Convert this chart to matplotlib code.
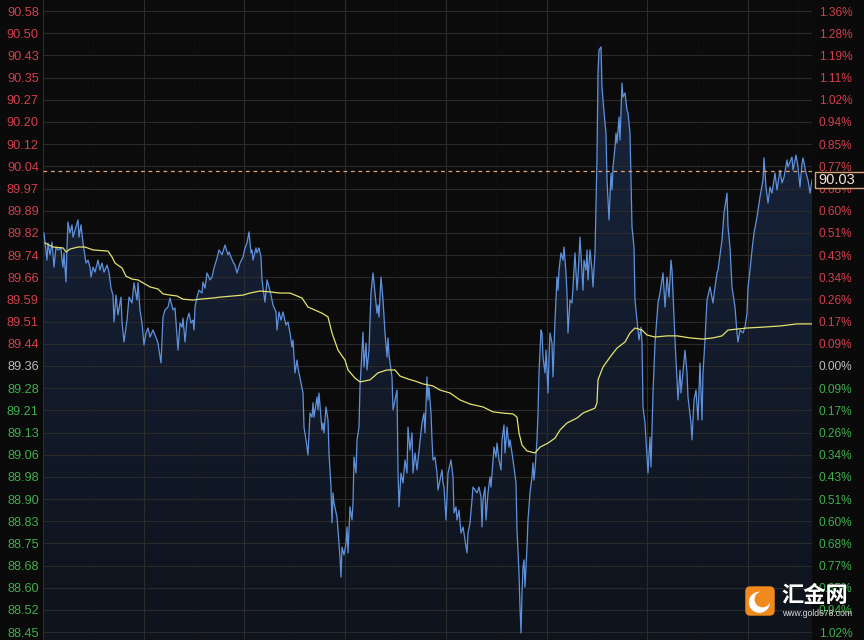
import numpy as np
import matplotlib
matplotlib.use('Agg')
import matplotlib.pyplot as plt
from matplotlib.patches import Polygon, FancyBboxPatch, Circle, Rectangle

plt.rcParams['font.family'] = ['Liberation Sans', 'DejaVu Sans']

# bars since open / price
t = [1, 4, 5, 7, 9, 11, 13, 15, 18, 19,
     20, 21, 23, 24, 25, 27, 29, 30, 32, 35,
     36, 38, 40, 43, 45, 47, 48, 50, 52, 55,
     57, 59, 61, 64, 66, 68, 70, 71, 73, 75,
     78, 79, 81, 84, 86, 89, 91, 94, 95, 97,
     99, 101, 103, 105, 107, 110, 114, 115, 118, 120,
     122, 125, 127, 130, 132, 135, 137, 139, 140, 142,
     144, 146, 148, 150, 151, 152, 154, 156, 159, 160,
     162, 164, 167, 169, 171, 174, 176, 179, 182, 185,
     186, 190, 192, 194, 197, 200, 202, 204, 206, 208,
     209, 210, 213, 214, 216, 218, 219, 220, 222, 224,
     226, 228, 230, 233, 234, 236, 238, 240, 243, 245,
     247, 249, 250, 252, 254, 255, 258, 260, 261, 263,
     265, 267, 269, 270, 271, 274, 275, 276, 279, 280,
     281, 283, 285, 286, 288, 289, 290, 291, 294, 295,
     297, 298, 299, 301, 303, 304, 305, 307, 309, 310,
     311, 313, 314, 316, 317, 319, 320, 321, 323, 324,
     326, 328, 330, 332, 334, 335, 336, 338, 340, 342,
     344, 345, 346, 349, 350, 352, 354, 355, 356, 358,
     360, 362, 364, 365, 367, 369, 370, 372, 374, 375,
     379, 381, 382, 384, 385, 386, 388, 389, 390, 392,
     394, 395, 399, 400, 401, 402, 403, 405, 408, 410,
     411, 413, 414, 416, 418, 420, 422, 424, 425, 427,
     429, 430, 434, 436, 438, 439, 440, 442, 443, 445,
     447, 448, 450, 451, 453, 454, 456, 458, 459, 461,
     462, 464, 466, 467, 469, 471, 473, 474, 476, 477,
     478, 479, 480, 481, 482, 484, 485, 487, 489, 490,
     491, 492, 494, 495, 496, 498, 499, 500, 502, 503,
     505, 506, 507, 509, 510, 512, 514, 515, 516, 518,
     520, 521, 523, 524, 525, 527, 529, 530, 532, 534,
     535, 537, 539, 540, 541, 543, 544, 545, 547, 549,
     550, 552, 554, 555, 556, 558, 559, 560, 562, 563,
     564, 566, 568, 569, 570, 572, 573, 574, 576, 577,
     579, 580, 582, 584, 585, 587, 588, 589, 591, 592,
     594, 596, 598, 599, 600, 602, 605, 607, 608, 610,
     612, 615, 617, 620, 622, 624, 626, 628, 629, 630,
     632, 634, 635, 637, 638, 642, 644, 645, 648, 649,
     651, 653, 655, 657, 659, 660, 662, 664, 667, 670,
     672, 674, 675, 679, 681, 684, 685, 687, 689, 692,
     694, 695, 697, 700, 702, 704, 705, 707, 709, 711,
     714, 717, 720, 721, 723, 725, 727, 729, 732, 734,
     737, 739, 741, 744, 745, 749, 750, 753, 755, 757,
     759, 760, 763, 765, 767, 769]

price = [89.818, 89.725, 89.784, 89.743, 89.787, 89.701, 89.770, 89.760, 89.767, 89.725,
         89.701, 89.750, 89.650, 89.770, 89.856, 89.818, 89.846, 89.804, 89.828, 89.863,
         89.804, 89.846, 89.784, 89.715, 89.725, 89.701, 89.667, 89.701, 89.684, 89.725,
         89.691, 89.715, 89.684, 89.708, 89.684, 89.629, 89.605, 89.513, 89.605, 89.537,
         89.598, 89.513, 89.444, 89.519, 89.598, 89.578, 89.647, 89.588, 89.647, 89.554,
         89.509, 89.434, 89.475, 89.492, 89.461, 89.485, 89.451, 89.440, 89.372, 89.530,
         89.554, 89.564, 89.595, 89.554, 89.561, 89.416, 89.509, 89.495, 89.526, 89.444,
         89.519, 89.543, 89.509, 89.519, 89.485, 89.564, 89.598, 89.622, 89.612, 89.650,
         89.629, 89.681, 89.657, 89.667, 89.698, 89.732, 89.760, 89.743, 89.777, 89.743,
         89.753, 89.719, 89.708, 89.681, 89.715, 89.736, 89.767, 89.784, 89.822, 89.750,
         89.760, 89.725, 89.767, 89.750, 89.767, 89.736, 89.657, 89.629, 89.581, 89.657,
         89.633, 89.605, 89.571, 89.547, 89.485, 89.547, 89.519, 89.547, 89.502, 89.513,
         89.475, 89.427, 89.451, 89.338, 89.382, 89.355, 89.303, 89.269, 89.152, 89.108,
         89.056, 89.200, 89.186, 89.235, 89.186, 89.255, 89.211, 89.269, 89.142, 89.166,
         89.132, 89.221, 89.176, 89.063, 88.946, 88.823, 88.926, 88.891, 88.843, 88.799,
         88.706, 88.637, 88.740, 88.713, 88.754, 88.809, 88.720, 88.878, 88.833, 88.891,
         89.049, 88.994, 89.108, 89.152, 89.289, 89.416, 89.478, 89.358, 89.440, 89.348,
         89.416, 89.612, 89.681, 89.612, 89.543, 89.571, 89.530, 89.667, 89.588, 89.475,
         89.392, 89.458, 89.399, 89.324, 89.211, 89.245, 89.279, 89.005, 88.878, 88.994,
         88.960, 89.039, 88.994, 89.152, 89.073, 89.132, 88.994, 89.063, 89.005, 89.039,
         89.166, 89.200, 89.132, 89.324, 89.245, 89.289, 89.200, 89.108, 89.039, 89.049,
         88.994, 88.936, 89.005, 88.960, 88.946, 88.891, 88.833, 88.994, 89.039, 88.981,
         88.857, 88.878, 88.833, 88.867, 88.788, 88.809, 88.764, 88.720, 88.788, 88.823,
         88.902, 88.946, 88.926, 88.946, 88.912, 88.809, 88.902, 88.946, 88.833, 88.926,
         88.981, 88.946, 89.039, 89.083, 89.049, 89.097, 89.039, 89.005, 89.108, 89.159,
         89.063, 89.152, 89.083, 89.108, 89.063, 89.015, 88.960, 88.799, 88.651, 88.534,
         88.445, 88.582, 88.672, 88.696, 88.603, 88.740, 88.833, 88.926, 88.981, 89.029,
         88.970, 89.005, 89.108, 89.200, 89.338, 89.485, 89.475, 89.392, 89.338, 89.416,
         89.269, 89.392, 89.475, 89.440, 89.324, 89.519, 89.667, 89.622, 89.691, 89.750,
         89.725, 89.770, 89.681, 89.612, 89.475, 89.588, 89.578, 89.633, 89.750, 89.622,
         89.667, 89.804, 89.681, 89.622, 89.725, 89.691, 89.760, 89.657, 89.760, 89.691,
         89.633, 89.750, 90.079, 90.367, 90.446, 90.457, 90.319, 90.275, 90.196, 90.161,
         90.000, 89.863, 90.024, 89.966, 90.045, 90.113, 90.161, 90.127, 90.216, 90.137,
         90.333, 90.285, 90.299, 90.240, 90.230, 90.161, 90.000, 89.839, 89.770, 89.588,
         89.519, 89.451, 89.495, 89.440, 89.221, 89.166, 88.994, 89.118, 89.015, 89.269,
         89.440, 89.578, 89.612, 89.681, 89.564, 89.667, 89.598, 89.725, 89.691, 89.612,
         89.451, 89.314, 89.245, 89.348, 89.269, 89.416, 89.338, 89.255, 89.166, 89.108,
         89.245, 89.279, 89.176, 89.372, 89.176, 89.338, 89.451, 89.588, 89.633, 89.578,
         89.633, 89.681, 89.691, 89.794, 89.887, 89.955, 89.839, 89.770, 89.633, 89.564,
         89.475, 89.444, 89.485, 89.475, 89.495, 89.543, 89.633, 89.691, 89.760, 89.818,
         89.873, 89.942, 90.000, 90.076, 89.976, 89.921, 89.976, 89.955, 90.024, 89.966,
         90.034, 89.990, 90.010, 90.069, 90.045, 90.079, 90.034, 90.086, 90.045, 89.976,
         90.058, 90.076, 90.024, 90.000, 89.955, 90.000]

# average price line
ma_t = [2, 10, 20, 23, 27, 35, 42, 50, 65, 69,
        72, 79, 83, 89, 95, 100, 107, 115, 120, 127,
        134, 140, 150, 157, 170, 177, 190, 200, 207, 217,
        227, 237, 247, 259, 265, 279, 285, 289, 295, 302,
        305, 312, 317, 327, 335, 344, 352, 357, 365, 372,
        380, 390, 397, 407, 417, 427, 440, 450, 460, 470,
        474, 476, 479, 484, 492, 497, 505, 512, 517, 524,
        534, 540, 552, 554, 555, 560, 567, 574, 582, 587,
        592, 599, 604, 612, 624, 634, 647, 660, 670, 679,
        685, 704, 720, 737, 754, 769]
ma = [89.784, 89.770, 89.767, 89.753, 89.763, 89.770, 89.770, 89.760, 89.756, 89.736,
      89.715, 89.698, 89.670, 89.660, 89.657, 89.647, 89.633, 89.626, 89.609, 89.605,
      89.602, 89.591, 89.588, 89.591, 89.595, 89.598, 89.602, 89.605, 89.612, 89.619,
      89.616, 89.612, 89.612, 89.595, 89.564, 89.543, 89.530, 89.475, 89.416, 89.382,
      89.348, 89.320, 89.307, 89.314, 89.338, 89.348, 89.348, 89.327, 89.317, 89.310,
      89.300, 89.293, 89.279, 89.269, 89.245, 89.231, 89.221, 89.204, 89.200, 89.197,
      89.186, 89.132, 89.090, 89.070, 89.063, 89.083, 89.097, 89.114, 89.142, 89.166,
      89.183, 89.200, 89.217, 89.235, 89.314, 89.358, 89.392, 89.423, 89.444, 89.475,
      89.492, 89.485, 89.468, 89.461, 89.465, 89.465, 89.458, 89.454, 89.458, 89.465,
      89.485, 89.492, 89.495, 89.499, 89.506, 89.506]

last_price = 90.03

price_labels = ['90.58', '90.50', '90.43', '90.35', '90.27', '90.20', '90.12', '90.04',
                '89.97', '89.89', '89.82', '89.74', '89.66', '89.59', '89.51', '89.44',
                '89.36', '89.28', '89.21', '89.13', '89.06', '88.98', '88.90', '88.83',
                '88.75', '88.68', '88.60', '88.52', '88.45']
pct_labels = ['1.36%', '1.28%', '1.19%', '1.11%', '1.02%', '0.94%', '0.85%', '0.77%',
              '0.68%', '0.60%', '0.51%', '0.43%', '0.34%', '0.26%', '0.17%', '0.09%',
              '0.00%', '0.09%', '0.17%', '0.26%', '0.34%', '0.43%', '0.51%', '0.60%',
              '0.68%', '0.77%', '0.85%', '0.94%', '1.02%']
zero_idx = 16

RED = '#d0404b'
GREEN = '#3fae4d'
GREY = '#bdbdbd'

fig = plt.figure(figsize=(8.64, 6.4), dpi=100, facecolor='#0a0a0a')
ax = fig.add_axes([43 / 864, 0, 769 / 864, 1])
ax.set_facecolor('#0b0b0b')

ymin, ymax = 88.421, 90.618
xmax = 769

# gradient fill under the price line
verts = [(t[0], ymin)] + list(zip(t, price)) + [(t[-1], ymin)]
poly = Polygon(verts, closed=True, facecolor='none', edgecolor='none')
ax.add_patch(poly)
g = np.linspace(0, 1, 256)[:, None, None]
top_c = np.array([0.10, 0.15, 0.25])
bot_c = np.array([0.055, 0.075, 0.11])
img = top_c * (1 - g) + bot_c * g
im = ax.imshow(img, extent=[0, xmax, ymin, ymax], aspect='auto', origin='upper', zorder=1)
im.set_clip_path(poly)

ax.set_xlim(0, xmax)
ax.set_ylim(ymin, ymax)

tick_pos = np.linspace(90.580, 88.448, len(price_labels))

# grid
for y in tick_pos:
    ax.axhline(y, color='#2a2a2a', lw=0.8, zorder=2)
for x in np.arange(8) * 100.7:
    ax.axvline(x, color='#2c2c2c', lw=0.8, zorder=2)
for x in np.arange(8) * 100.7 + 50.35:
    ax.axvline(x, color='#1c1c1c', lw=0.6, ls=(0, (1, 2)), zorder=2)

ax.plot(t, price, color='#5f91dc', lw=0.9, zorder=4)
ax.plot(ma_t, ma, color='#e4e26e', lw=0.9, zorder=5)

ax.axhline(last_price, color='#e6a26c', lw=0.9, ls=(0, (3, 3)), zorder=6)

for s in ax.spines.values():
    s.set_visible(False)
ax.set_xticks([])
ax.set_yticks(tick_pos)
ax.set_yticklabels(price_labels)
ax.tick_params(axis='y', length=0, pad=3, labelsize=9.2)

ax2 = ax.twinx()
ax2.set_ylim(ymin, ymax)
ax2.set_yticks(tick_pos)
ax2.set_yticklabels(pct_labels)
ax2.tick_params(axis='y', length=0, pad=5, labelsize=8.6)
for s in ax2.spines.values():
    s.set_visible(False)

for axis in (ax, ax2):
    for i, lab in enumerate(axis.get_yticklabels()):
        if i < zero_idx:
            lab.set_color(RED)
        elif i == zero_idx:
            lab.set_color(GREY)
        else:
            lab.set_color(GREEN)

# last price tag: box hangs from the dashed line out to the figure edge
fig_h = 640
line_px = ax.transData.transform((0, last_price))[1]
tag = Rectangle((815 / 864, (line_px - 16.5) / fig_h), 60 / 864, 16 / fig_h,
                transform=fig.transFigure, fc='#0a0a0a', ec='#d9a27a', lw=1,
                zorder=10, clip_on=False)
fig.patches.append(tag)
fig.text(818 / 864, (line_px - 8.5) / fig_h, '%.2f' % last_price, fontsize=10.5,
         color='#f3e4d8', ha='left', va='center', zorder=11)

# watermark
lax = fig.add_axes([744 / 864, 1 - 617 / 640, 32 / 864, 32 / 640])
lax.set_xlim(0, 1)
lax.set_ylim(0, 1)
lax.axis('off')
lax.add_patch(FancyBboxPatch((0.04, 0.04), 0.92, 0.92,
                             boxstyle='round,pad=0,rounding_size=0.16',
                             fc='#f08a1e', ec='none'))
lax.add_patch(Circle((0.48, 0.46), 0.33, fc='white', ec='none'))
lax.add_patch(Circle((0.58, 0.55), 0.25, fc='#f08a1e', ec='none'))

fig.text(781 / 864, 1 - 595 / 640, '汇金网', fontsize=16, color='white',
         va='center', ha='left', family=['Noto Sans CJK SC', 'DejaVu Sans'],
         fontweight='bold', zorder=20)
fig.text(782 / 864, 1 - 613 / 640, 'www.gold678.com', fontsize=6.2, color='#dddddd',
         va='center', ha='left', zorder=20)

fig.savefig('out.png', dpi=100, facecolor=fig.get_facecolor())
